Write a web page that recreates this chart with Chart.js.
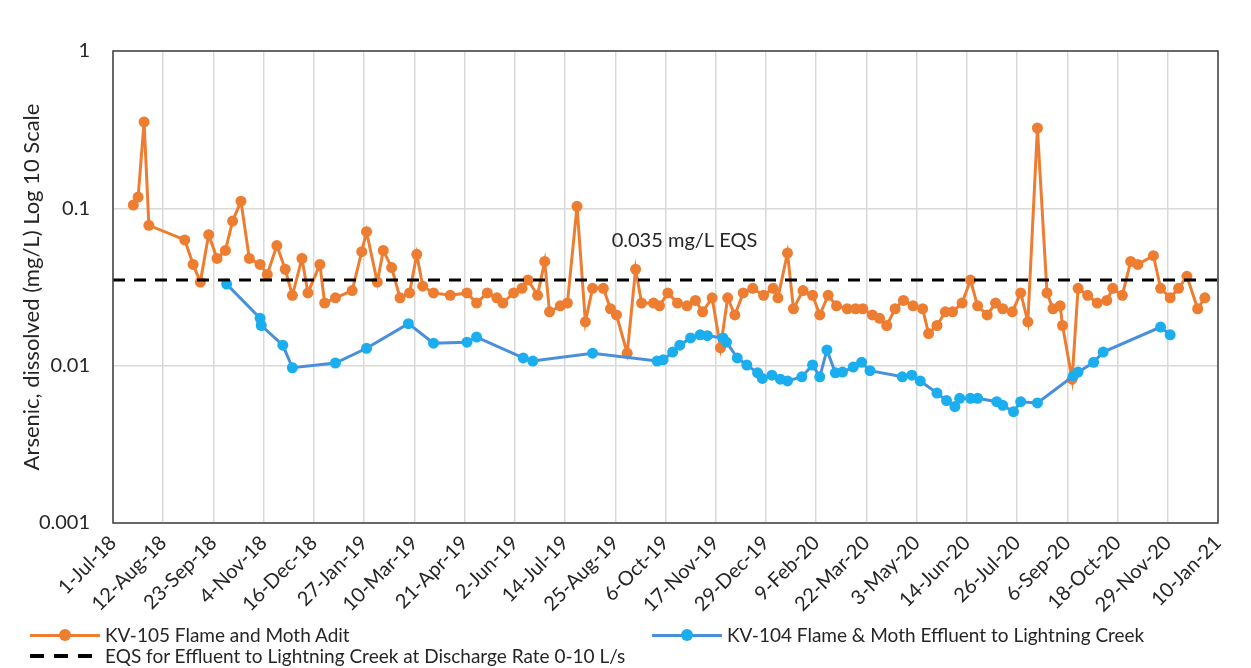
<!DOCTYPE html>
<html>
<head>
<meta charset="utf-8">
<script src="https://cdn.jsdelivr.net/npm/chart.js@4.4.1/dist/chart.umd.min.js"></script>
<style>
  html, body { margin: 0; padding: 0; background: #fff; }
  #wrap { position: relative; width: 1251px; height: 668px; overflow: hidden; font-family: Lato, "Liberation Sans", sans-serif; }
  #chart { position: absolute; left: 0; top: 0; }
  .legend-item { position: absolute; display: flex; align-items: center; font-size: 19px; line-height: 20px; color: #262626; white-space: nowrap; }
  .sample { position: relative; width: 70px; height: 14px; margin-right: 5px; }
  .sample .line { position: absolute; left: 0; right: 0; top: 6px; height: 3px; }
  .sample .dot { position: absolute; left: 29px; top: 1px; width: 12px; height: 12px; border-radius: 50%; }
  .sample .dash { position: absolute; left: 0; right: 0; top: 5px; height: 4px;
    background: repeating-linear-gradient(90deg, #000 0 14px, transparent 14px 24px); }
</style>
</head>
<body>
<div id="wrap">
  <canvas id="chart" width="1251" height="668"></canvas>
  <div class="legend-item" style="left:30px; top:625px;">
    <div class="sample"><div class="line" style="background:#ED7D31"></div><div class="dot" style="background:#ED7D31"></div></div>
    <span id="lg1"></span>
  </div>
  <div class="legend-item" style="left:652px; top:625px;">
    <div class="sample"><div class="line" style="background:#4A8FDB"></div><div class="dot" style="background:#1AAEEF"></div></div>
    <span id="lg2"></span>
  </div>
  <div class="legend-item" style="left:30px; top:646px;">
    <div class="sample"><div class="dash"></div></div>
    <span id="lg3"></span>
  </div>
</div>
<script>
const seriesNames = ['KV-105 Flame and Moth Adit', 'KV-104 Flame & Moth Effluent to Lightning Creek',
  'EQS for Effluent to Lightning Creek at Discharge Rate 0-10 L/s'];
const yTitle = 'Arsenic, dissolved (mg/L) Log 10 Scale';
const eqsLabel = '0.035 mg/L EQS';

// x tick labels, one every 42 days from 1-Jul-18
const xTickLabels = ['1-Jul-18', '12-Aug-18', '23-Sep-18', '4-Nov-18', '16-Dec-18', '27-Jan-19', '10-Mar-19',
  '21-Apr-19', '2-Jun-19', '14-Jul-19', '25-Aug-19', '6-Oct-19', '17-Nov-19', '29-Dec-19', '9-Feb-20',
  '22-Mar-20', '3-May-20', '14-Jun-20', '26-Jul-20', '6-Sep-20', '18-Oct-20', '29-Nov-20', '10-Jan-21'];
const tickStepDays = 42;
const yTicks = [1, 0.1, 0.01, 0.001];
const eqsValue = 0.035;

// sample day (days after 1-Jul-18) and arsenic mg/L
const kv105Days = [17, 21, 26, 30, 60, 67, 73, 80, 87, 94, 100, 107, 114, 123, 129, 137, 144, 150, 158, 163,
  173, 177, 186, 200, 208, 212, 221, 226, 233, 240, 248, 254, 259, 268, 282, 296, 304, 313, 321, 326,
  335, 342, 347, 355, 361, 365, 374, 380, 388, 395, 401, 410, 416, 421, 430, 437, 442, 452, 457, 464,
  472, 480, 487, 493, 501, 508, 514, 520, 527, 535, 544, 552, 556, 564, 569, 577, 585, 591, 598, 605,
  614, 621, 627, 635, 641, 647, 654, 661, 669, 677, 682, 689, 696, 702, 710, 717, 723, 731, 738, 744,
  752, 759, 765, 773, 781, 786, 792, 794, 802, 807, 815, 823, 831, 836, 844, 851, 857, 870, 876, 884,
  891, 898, 907, 913];
const kv105Values = [0.105, 0.118, 0.354, 0.078, 0.063, 0.044, 0.034, 0.068, 0.048, 0.054, 0.083, 0.111, 0.048, 0.044, 0.038, 0.058, 0.041, 0.028, 0.048, 0.029,
  0.044, 0.025, 0.027, 0.030, 0.053, 0.071, 0.034, 0.054, 0.042, 0.027, 0.029, 0.051, 0.032, 0.029, 0.028, 0.029, 0.025, 0.029, 0.027, 0.025,
  0.029, 0.031, 0.035, 0.028, 0.046, 0.022, 0.024, 0.025, 0.103, 0.019, 0.031, 0.031, 0.023, 0.021, 0.012, 0.041, 0.025, 0.025, 0.024, 0.029,
  0.025, 0.024, 0.026, 0.022, 0.027, 0.013, 0.027, 0.021, 0.029, 0.031, 0.028, 0.031, 0.027, 0.052, 0.023, 0.030, 0.028, 0.021, 0.028, 0.024,
  0.023, 0.023, 0.023, 0.021, 0.020, 0.018, 0.023, 0.026, 0.024, 0.023, 0.016, 0.018, 0.022, 0.022, 0.025, 0.035, 0.024, 0.021, 0.025, 0.023,
  0.022, 0.029, 0.019, 0.324, 0.029, 0.023, 0.024, 0.018, 0.0082, 0.031, 0.028, 0.025, 0.026, 0.031, 0.028, 0.046, 0.044, 0.050, 0.031, 0.027,
  0.031, 0.037, 0.023, 0.027];

const kv104Days = [95, 123, 124, 142, 150, 186, 212, 247, 268, 296, 304, 343, 351, 401, 455, 460, 468, 474, 483, 491,
  497, 510, 513, 522, 530, 539, 543, 551, 558, 564, 576, 585, 591, 597, 604, 610, 619, 626, 633, 660,
  668, 675, 689, 697, 704, 708, 717, 723, 739, 744, 753, 759, 773, 803, 807, 820, 828, 876, 884];
const kv104Values = [0.033, 0.020, 0.018, 0.0135, 0.0097, 0.0104, 0.0129, 0.0185, 0.0139, 0.0141, 0.0152, 0.0112, 0.0107, 0.012, 0.0107, 0.0109, 0.0122, 0.0135, 0.015, 0.0157,
  0.0155, 0.015, 0.0141, 0.0112, 0.0101, 0.009, 0.0083, 0.0087, 0.0082, 0.008, 0.0085, 0.0101, 0.0085, 0.0126, 0.009, 0.0091, 0.0098, 0.0105, 0.0093, 0.0085,
  0.0087, 0.008, 0.0067, 0.006, 0.0055, 0.0062, 0.0062, 0.0062, 0.0059, 0.0056, 0.0051, 0.0059, 0.0058, 0.0086, 0.0091, 0.0105, 0.0122, 0.0176, 0.0157];

document.getElementById('lg1').textContent = seriesNames[0];
document.getElementById('lg2').textContent = seriesNames[1];
document.getElementById('lg3').textContent = seriesNames[2];

const toPoints = (days, values) => days.map((d, i) => ({ x: d, y: values[i] }));
const lastDay = (xTickLabels.length - 1) * tickStepDays;

Chart.defaults.font.family = 'Lato, "Liberation Sans", sans-serif';
Chart.defaults.color = '#262626';

// frame around plot area and the EQS note
const plotExtras = {
  id: 'plotExtras',
  afterDatasetsDraw(chart) {
    const { ctx, chartArea: a, scales } = chart;
    ctx.save();
    ctx.strokeStyle = '#404040';
    ctx.lineWidth = 1.5;
    ctx.strokeRect(a.left, a.top, a.right - a.left, a.bottom - a.top);
    ctx.fillStyle = '#262626';
    ctx.font = '20px Lato, "Liberation Sans", sans-serif';
    ctx.textBaseline = 'middle';
    ctx.fillText(eqsLabel, scales.x.getPixelForValue(417), scales.y.getPixelForValue(eqsValue) - 40);
    ctx.restore();
  }
};

new Chart(document.getElementById('chart').getContext('2d'), {
  type: 'line',
  data: {
    datasets: [
      {
        label: seriesNames[0],
        data: toPoints(kv105Days, kv105Values),
        borderColor: '#ED7D31',
        backgroundColor: '#ED7D31',
        pointBackgroundColor: '#ED7D31',
        borderWidth: 3,
        pointRadius: 5.5,
        pointBorderWidth: 0,
        tension: 0,
        order: 2
      },
      {
        label: seriesNames[1],
        data: toPoints(kv104Days, kv104Values),
        borderColor: '#4A8FDB',
        backgroundColor: '#1AAEEF',
        pointBackgroundColor: '#1AAEEF',
        borderWidth: 3,
        pointRadius: 5.5,
        pointBorderWidth: 0,
        tension: 0,
        order: 1
      },
      {
        label: seriesNames[2],
        data: [{ x: 0, y: eqsValue }, { x: lastDay, y: eqsValue }],
        borderColor: '#000',
        borderWidth: 3,
        borderDash: [12, 9],
        pointRadius: 0,
        order: 0
      }
    ]
  },
  options: {
    responsive: false,
    animation: false,
    layout: { padding: { left: 0, right: 33, top: 51, bottom: 0 } },
    plugins: {
      legend: { display: false },
      tooltip: { enabled: false }
    },
    scales: {
      x: {
        type: 'linear',
        min: 0,
        max: lastDay,
        afterBuildTicks: s => { s.ticks = xTickLabels.map((_, i) => ({ value: i * tickStepDays })); },
        afterFit: s => { s.height = 145; },
        grid: { color: '#d9d9d9', lineWidth: 1.5, drawTicks: false },
        border: { display: false },
        ticks: {
          autoSkip: false,
          minRotation: 45,
          maxRotation: 45,
          padding: 8,
          font: { size: 20 },
          callback: (v, i) => xTickLabels[i]
        }
      },
      y: {
        type: 'logarithmic',
        min: 0.001,
        max: 1,
        afterBuildTicks: s => { s.ticks = yTicks.map(v => ({ value: v })); },
        afterFit: s => { s.width = 113; },
        grid: { color: '#d9d9d9', lineWidth: 1.5, drawTicks: false },
        border: { display: false },
        ticks: {
          padding: 23,
          font: { size: 20 },
          callback: v => String(v)
        },
        title: {
          display: true,
          text: yTitle,
          font: { size: 22 },
          padding: { top: 19, bottom: 4 }
        }
      }
    }
  },
  plugins: [plotExtras]
});
</script>
</body>
</html>
